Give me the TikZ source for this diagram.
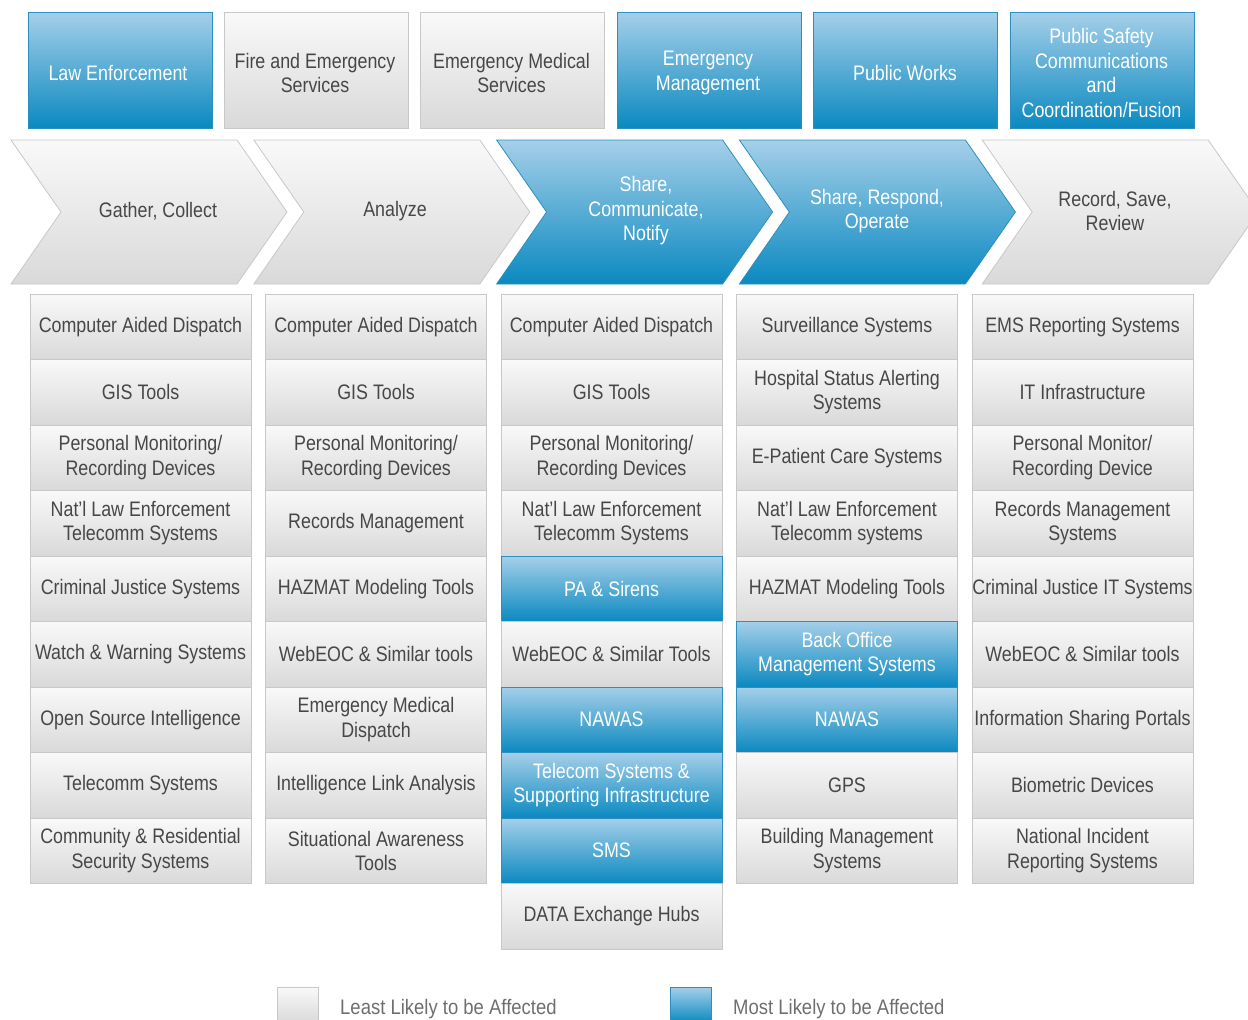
\documentclass[tikz,border=0pt]{standalone}
\usepackage{fontspec}
\setmainfont{Liberation Sans}[FakeStretch=0.85]
\newfontfamily\legfont{Liberation Sans}[FakeStretch=0.88]
\definecolor{gtop}{HTML}{F9F9F9}
\definecolor{gbot}{HTML}{D9D9D9}
\definecolor{gborder}{HTML}{C8C8C8}
\definecolor{gtext}{HTML}{474747}
\definecolor{btop}{HTML}{A5CFE9}
\definecolor{bbot}{HTML}{0A89C0}
\definecolor{bborder}{HTML}{2D8FC0}
\definecolor{ltext}{HTML}{6E6E6E}
\begin{document}
\begin{tikzpicture}[x=1pt,y=-1pt,
  txt/.style={font=\fontsize{21}{24.5}\selectfont, align=center, inner sep=0pt},
  gfill/.style={draw=gborder, line width=0.8pt, top color=gtop, bottom color=gbot},
  bfill/.style={draw=bborder, line width=0.8pt, top color=btop, bottom color=bbot},
  g/.style={gfill, txt, text=gtext},
  b/.style={bfill, txt, text=white},
  cell/.style={minimum width=221pt, minimum height=65.5pt},
  leg/.style={font=\legfont\fontsize{21}{24.5}\selectfont, text=ltext, anchor=west, inner sep=0pt}
]
\useasboundingbox (0,0) rectangle (1248,1020);
\clip (0,0) rectangle (1248,1020);

% top row
\foreach \x/\st in {28/bfill, 224.4/gfill, 420.8/gfill, 617.2/bfill, 813.6/bfill, 1010/bfill}{
  \path[\st] (\x,12) rectangle (\x+184,128);
}
\node[txt, text=white] (t1) at (118,73) {Law Enforcement};
\node[txt, text=gtext] (t2) at (315,73) {Fire and Emergency\\Services};
\node[txt, text=gtext] (t3) at (511.5,73) {Emergency Medical\\Services};
\node[txt, text=white] (t4) at (708,73) {Emergency\\Management};
\node[txt, text=white] (t5) at (905,73) {Public Works};
\node[txt, text=white] (t6) at (1101.5,73) {Public Safety\\Communications\\and\\Coordination/Fusion};

% chevrons
\foreach \x/\st in {11/gfill, 253.8/gfill, 496.6/bfill, 739.4/bfill, 982.2/gfill}{
  \path[\st] (\x,140) -- (\x+226,140) -- (\x+276,212) -- (\x+226,284) -- (\x,284) -- (\x+50,212) -- cycle;
}
\node[txt, text=gtext] (h1) at (158,211) {Gather, Collect};
\node[txt, text=gtext] (h2) at (395,211) {Analyze};
\node[txt, text=white] (h3) at (646,211) {Share,\\Communicate,\\Notify};
\node[txt, text=white] (h4) at (877,211) {Share, Respond,\\Operate};
\node[txt, text=gtext] (h5) at (1115,211) {Record, Save,\\Review};

% column 1
\foreach \s/\t [count=\i from 0] in {
  g/{Computer Aided Dispatch},
  g/{GIS Tools},
  g/{Personal Monitoring/\\Recording Devices},
  g/{Nat’l Law Enforcement\\Telecomm Systems},
  g/{Criminal Justice Systems},
  g/{Watch \& Warning Systems},
  g/{Open Source Intelligence},
  g/{Telecomm Systems},
  g/{Community \& Residential\\Security Systems}}{
  \node[\s, cell] (ca\i) at (140.5,{326.75+65.5*\i}) {\t};
}
% column 2
\foreach \s/\t [count=\i from 0] in {
  g/{Computer Aided Dispatch},
  g/{GIS Tools},
  g/{Personal Monitoring/\\Recording Devices},
  g/{Records Management},
  g/{HAZMAT Modeling Tools},
  g/{WebEOC \& Similar tools},
  g/{Emergency Medical\\Dispatch},
  g/{Intelligence Link Analysis},
  g/{Situational Awareness\\Tools}}{
  \node[\s, cell] (cb\i) at (376,{326.75+65.5*\i}) {\t};
}
% column 3
\foreach \s/\t [count=\i from 0] in {
  g/{Computer Aided Dispatch},
  g/{GIS Tools},
  g/{Personal Monitoring/\\Recording Devices},
  g/{Nat’l Law Enforcement\\Telecomm Systems},
  b/{PA \& Sirens},
  g/{WebEOC \& Similar Tools},
  b/{NAWAS},
  b/{Telecom Systems \&\\Supporting Infrastructure},
  b/{SMS},
  g/{DATA Exchange Hubs}}{
  \node[\s, cell] (cc\i) at (611.5,{326.75+65.5*\i}) {\t};
}
% column 4
\foreach \s/\t [count=\i from 0] in {
  g/{Surveillance Systems},
  g/{Hospital Status Alerting\\Systems},
  g/{E-Patient Care Systems},
  g/{Nat’l Law Enforcement\\Telecomm systems},
  g/{HAZMAT Modeling Tools},
  b/{Back Office\\Management Systems},
  b/{NAWAS},
  g/{GPS},
  g/{Building Management\\Systems}}{
  \node[\s, cell] (cd\i) at (847,{326.75+65.5*\i}) {\t};
}
% column 5
\foreach \s/\t [count=\i from 0] in {
  g/{EMS Reporting Systems},
  g/{IT Infrastructure},
  g/{Personal Monitor/\\Recording Device},
  g/{Records Management\\Systems},
  g/{Criminal Justice IT Systems},
  g/{WebEOC \& Similar tools},
  g/{Information Sharing Portals},
  g/{Biometric Devices},
  g/{National Incident\\Reporting Systems}}{
  \node[\s, cell] (ce\i) at (1082.5,{326.75+65.5*\i}) {\t};
}

% legend
\node[gfill, minimum width=41pt, minimum height=36pt, inner sep=0pt] (lg) at (297.5,1005) {};
\node[leg] (lgt) at (340,1009) {Least Likely to be Affected};
\node[bfill, minimum width=41pt, minimum height=36pt, inner sep=0pt] (lb) at (690.5,1005) {};
\node[leg] (lbt) at (733,1009) {Most Likely to be Affected};
\end{tikzpicture}
\end{document}
